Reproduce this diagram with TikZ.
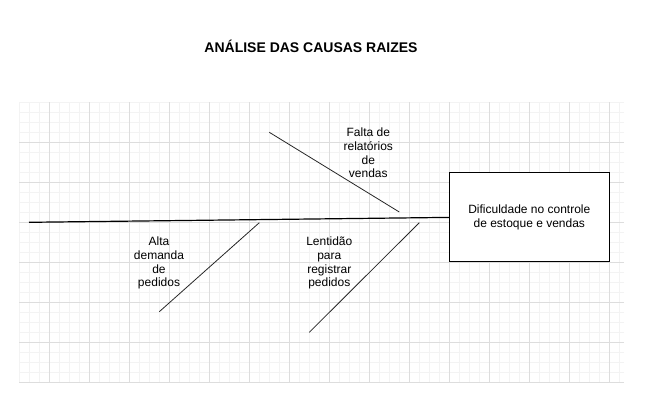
\documentclass[tikz,border=0pt]{standalone}
\usepackage{fontspec}
\setmainfont{Liberation Sans}
\definecolor{gridminor}{HTML}{F3F3F3}
\definecolor{gridmajor}{HTML}{DDDDDD}
\begin{document}
\begin{tikzpicture}[x=1pt,y=-1pt,
  minorline/.style={draw=gridminor,line width=0.7pt},
  majorline/.style={draw=gridmajor,line width=0.8pt},
  bone/.style={draw=black!85,line width=0.8pt},
  spine/.style={draw=black,line width=1.2pt},
  causelabel/.style={align=center,font=\fontsize{12}{13.7}\selectfont,inner sep=0pt},
  probbox/.style={draw=black,line width=1pt,minimum width=160pt,minimum height=89pt,inner sep=0pt,align=center,font=\fontsize{12}{13.3}\selectfont}]
\useasboundingbox (0,0) rectangle (659,410);
% grid
\foreach \k in {0,...,60}{\draw[minorline] (19.3+10*\k,102.3) -- (19.3+10*\k,382.3);}
\foreach \k in {0,...,28}{\draw[minorline] (19.3,102.3+10*\k) -- (624,102.3+10*\k);}
\foreach \k in {0,...,14}{\draw[majorline] (49.3+40*\k,102.3) -- (49.3+40*\k,382.3);}
\foreach \k in {1,...,7}{\draw[majorline] (19.3,102.3+40*\k) -- (624,102.3+40*\k);}
% title
\node[font=\bfseries\fontsize{14}{16}\selectfont,inner sep=0pt] (title) at (311,46) {ANÁLISE DAS CAUSAS RAIZES};
% problem box
\node[probbox,fill=white] (prob) at (529.3,217.4) {Dificuldade no controle\\de estoque e vendas};
% spine
\coordinate (tail) at (29,222.3);
\draw[spine] (tail) -- (prob.west);
% bones
\coordinate (b1s) at (269.3,132.3);
\coordinate (b1e) at (399.3,212);
\coordinate (b2s) at (259.3,222.7);
\coordinate (b2e) at (159.3,311.7);
\coordinate (b3s) at (419.3,222.7);
\coordinate (b3e) at (309.3,332.3);
\draw[bone] (b1s) -- (b1e);
\draw[bone] (b2s) -- (b2e);
\draw[bone] (b3s) -- (b3e);
% labels
\node[causelabel] (l1) at (368.3,153) {Falta de\\relatórios\\de\\vendas};
\node[causelabel] (l2) at (159,263.2) {Alta\\demanda\\de\\pedidos};
\node[causelabel] (l3) at (329.3,263.2) {Lentidão\\para\\registrar\\pedidos};
\end{tikzpicture}
\end{document}
